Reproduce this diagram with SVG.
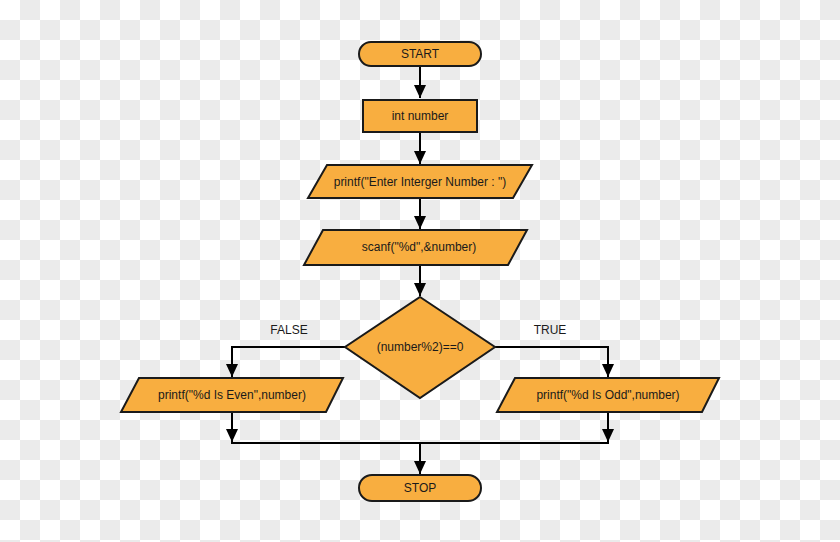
<svg xmlns="http://www.w3.org/2000/svg" width="840" height="542" viewBox="0 0 840 542">
<defs>
<pattern id="checker" x="0" y="0" width="40" height="40" patternUnits="userSpaceOnUse">
<rect width="40" height="40" fill="#ffffff"/>
<rect x="20" y="0" width="20" height="20" fill="#ebebeb"/>
<rect x="0" y="20" width="20" height="20" fill="#ebebeb"/>
</pattern>
<marker id="arrow" viewBox="0 0 13 12" refX="13" refY="6" markerWidth="13" markerHeight="12" markerUnits="userSpaceOnUse" orient="auto">
<path d="M0,0 L13,6 L0,12 Z" fill="#000"/>
</marker>
<style>
.shape{fill:#f8ae40;stroke:#1a1a1a;stroke-width:2}
.lbl{font-family:"Liberation Sans",Arial,sans-serif;font-size:12px;fill:#1a1a1a;text-anchor:middle}
.edge{fill:none;stroke:#000;stroke-width:2}
</style>
</defs>
<rect width="840" height="542" fill="url(#checker)"/>
<g id="connectors">
<path class="edge" d="M420,66 V98" marker-end="url(#arrow)"/>
<path class="edge" d="M420,132 V164" marker-end="url(#arrow)"/>
<path class="edge" d="M420,198 V229" marker-end="url(#arrow)"/>
<path class="edge" d="M420,265 V296" marker-end="url(#arrow)"/>
<path class="edge" d="M345,347 H232 V377" marker-end="url(#arrow)"/>
<path class="edge" d="M495,347 H608 V377" marker-end="url(#arrow)"/>
<path class="edge" d="M232,412 V442" marker-end="url(#arrow)"/>
<path class="edge" d="M608,412 V442" marker-end="url(#arrow)"/>
<path class="edge" d="M231,443 H609"/>
<path class="edge" d="M420,443 V474" marker-end="url(#arrow)"/>
<text class="lbl" x="289" y="334">FALSE</text>
<text class="lbl" x="550" y="334">TRUE</text>
</g>
<g id="start">
<rect class="shape" x="359" y="42" width="122" height="24" rx="12"/>
<text class="lbl" x="420" y="58">START</text>
</g>
<g id="declare">
<rect class="shape" x="363" y="100" width="114" height="32"/>
<text class="lbl" x="420" y="120">int number</text>
</g>
<g id="prompt">
<polygon class="shape" points="327,165 532,165 513,198 308,198"/>
<text class="lbl" x="420" y="186">printf("Enter Interger Number : ")</text>
</g>
<g id="read">
<polygon class="shape" points="323,230 527,230 508,265 304,265"/>
<text class="lbl" x="419" y="251">scanf("%d",&amp;number)</text>
</g>
<g id="decision">
<polygon class="shape" points="420,297 495,347 420,398 345,347"/>
<text class="lbl" x="420" y="351">(number%2)==0</text>
</g>
<g id="even">
<polygon class="shape" points="139,378 343,378 326,412 121,412"/>
<text class="lbl" x="232" y="399">printf("%d Is Even",number)</text>
</g>
<g id="odd">
<polygon class="shape" points="515,378 719,378 702,412 497,412"/>
<text class="lbl" x="608" y="399">printf("%d Is Odd",number)</text>
</g>
<g id="stop">
<rect class="shape" x="359" y="475" width="122" height="26" rx="13"/>
<text class="lbl" x="420" y="492">STOP</text>
</g>
</svg>
